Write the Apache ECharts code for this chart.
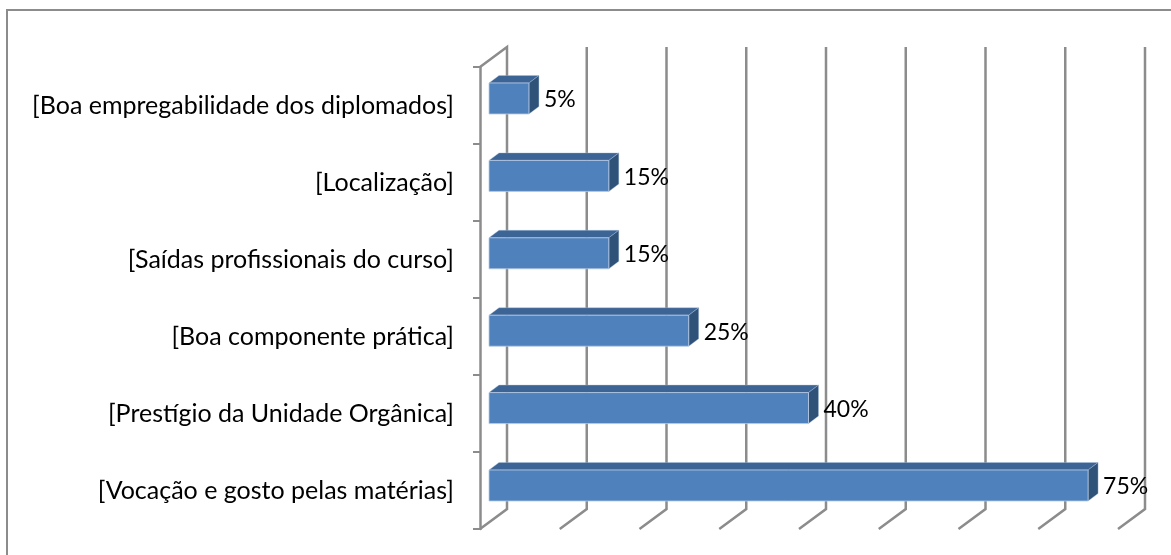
<!DOCTYPE html>
<html>
<head>
<meta charset="utf-8">
<style>
  html, body { margin: 0; padding: 0; background: #fff; }
  #main { width: 1171px; height: 555px; }
</style>
<script src="https://cdn.jsdelivr.net/npm/echarts@6/dist/echarts.min.js"></script>
</head>
<body>
<div id="main"></div>
<script>
const categories = [
  '[Vocação e gosto pelas matérias]',
  '[Prestígio da Unidade Orgânica]',
  '[Boa componente prática]',
  '[Saídas profissionais do curso]',
  '[Localização]',
  '[Boa empregabilidade dos diplomados]'
];
const percentages = [75, 40, 25, 15, 15, 5];
const gridTicks = [0, 10, 20, 30, 40, 50, 60, 70, 80];

// depth of the fake 3D box
const wallDx = 27, wallDy = -20;
const barDx = 10, barDy = -7.5;
const barHeight = 31;
const gray = '#8c8c8c';

const chart = echarts.init(document.getElementById('main'));

// walls: floor line + back line for every tick
function renderWall(params, api) {
  const x = api.coord([api.value(0), 0])[0];
  const top = params.coordSys.y;
  const bottom = top + params.coordSys.height;
  const points = [[x, bottom], [x + wallDx, bottom + wallDy], [x + wallDx, top + wallDy]];
  // the first tick also closes the side wall at the top
  if (api.value(0) === 0) points.push([x, top]);
  return {
    type: 'polyline',
    shape: { points: points },
    style: { stroke: gray, lineWidth: 2.5, fill: null }
  };
}

function renderBar(params, api) {
  const end = api.coord([api.value(0), api.value(1)]);
  const start = api.coord([0, api.value(1)]);
  const x0 = start[0], x1 = end[0];
  const y0 = end[1] - barHeight / 2, y1 = end[1] + barHeight / 2;
  return {
    type: 'group',
    children: [
      { type: 'polygon', shape: { points: [[x0, y0], [x1, y0], [x1 + barDx, y0 + barDy], [x0 + barDx, y0 + barDy]] },
        style: { fill: '#3c6494', stroke: '#a9c1df', lineWidth: 0.4 } },
      { type: 'polygon', shape: { points: [[x1, y0], [x1 + barDx, y0 + barDy], [x1 + barDx, y1 + barDy], [x1, y1]] },
        style: { fill: '#2f5279', stroke: '#a9c1df', lineWidth: 0.4 } },
      { type: 'rect', shape: { x: x0, y: y0, width: x1 - x0, height: y1 - y0 },
        style: { fill: '#4f81bd', stroke: '#b9cce4', lineWidth: 0.8 } },
      { type: 'text', x: x1 + barDx + 5, y: end[1] + 1.5,
        style: { text: api.value(0) + '%', fontFamily: 'Lato', fontSize: 23, fill: '#000', align: 'left', verticalAlign: 'middle' } }
    ]
  };
}

chart.setOption({
  animation: false,
  graphic: [{
    type: 'polyline',
    shape: { points: [[7, 560], [7, 10], [1180, 10]] },
    style: { stroke: gray, lineWidth: 2, fill: null }
  }],
  grid: [
    { left: 480, width: 638, top: 67, height: 462 },
    { left: 489, width: 639, top: 59.8, height: 464.4 }
  ],
  xAxis: [
    { type: 'value', gridIndex: 0, min: 0, max: 80, interval: 10,
      axisLine: { show: false }, axisTick: { show: false }, axisLabel: { show: false }, splitLine: { show: false } },
    { type: 'value', gridIndex: 1, min: 0, max: 80, interval: 10,
      axisLine: { show: false }, axisTick: { show: false }, axisLabel: { show: false }, splitLine: { show: false } }
  ],
  yAxis: [
    { type: 'category', gridIndex: 0, data: categories,
      axisLine: { show: true, onZero: false, lineStyle: { color: gray, width: 2.5 } },
      axisTick: { show: true, length: 7, lineStyle: { color: gray, width: 2 } },
      axisLabel: { margin: 26, color: '#000', fontFamily: 'Lato', fontSize: 25 },
      splitLine: { show: false } },
    { type: 'category', gridIndex: 1, data: categories,
      axisLine: { show: false }, axisTick: { show: false }, axisLabel: { show: false }, splitLine: { show: false } }
  ],
  series: [
    { type: 'custom', xAxisIndex: 0, yAxisIndex: 0, renderItem: renderWall, data: gridTicks.map(v => [v]), silent: true, z: 1, clip: false, encode: { x: 0 } },
    { type: 'custom', xAxisIndex: 1, yAxisIndex: 1, renderItem: renderBar, data: percentages.map((v, i) => [v, i]), z: 3, clip: false, encode: { x: 0, y: 1 } }
  ]
});
</script>
</body>
</html>
